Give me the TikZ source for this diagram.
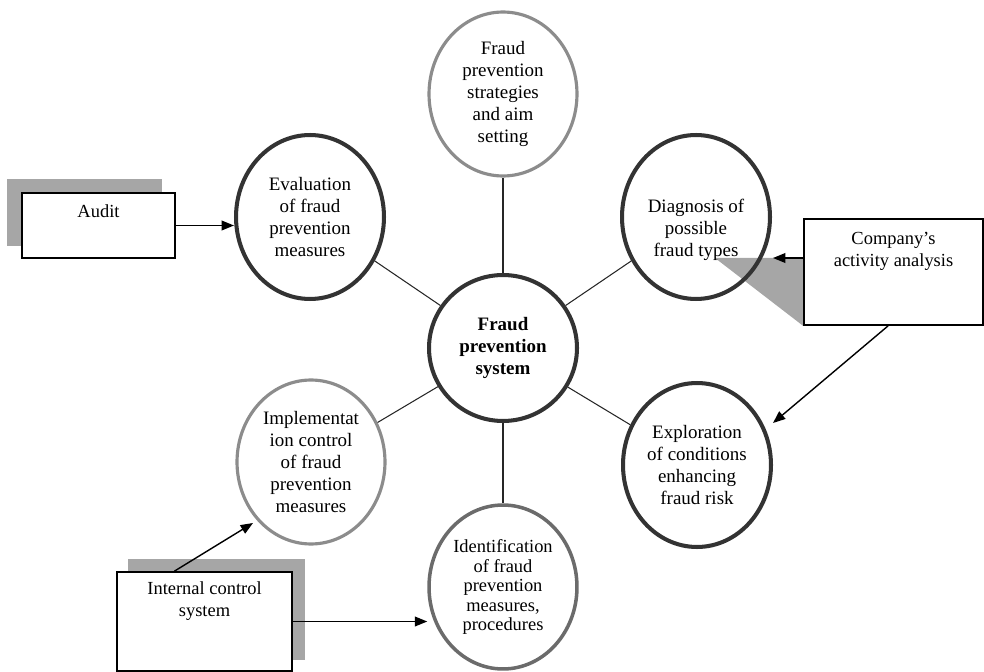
\documentclass[tikz,border=0pt]{standalone}
\usepackage{fontspec}
\setmainfont{Liberation Serif}
\usetikzlibrary{shapes.geometric,arrows.meta,calc,backgrounds}
\definecolor{inkdark}{HTML}{333333}
\definecolor{inkgrey}{HTML}{8C8C8C}
\definecolor{inkmid}{HTML}{6B6B6B}
\definecolor{shadowgrey}{HTML}{A6A6A6}
\tikzset
{
  bubbletext/.style={align=center,font=\fontsize{10.8}{12.6}\selectfont},
  bubble/.style={ellipse,draw=inkdark,line width=2.3pt,minimum width=2.96cm,minimum height=3.28cm,inner sep=0pt,bubbletext},
  bubblegrey/.style={bubble,draw=inkgrey,line width=1.8pt},
  bubblemid/.style={bubble,draw=inkmid,line width=2pt,font=\fontsize{10.5}{11.1}\selectfont},
  hub/.style={bubble,minimum height=2.92cm,font=\bfseries\fontsize{10.8}{12.6}\selectfont},
  box/.style={rectangle,draw=black,line width=1pt,fill=white,inner sep=0pt},
  boxtext/.style={anchor=north,inner sep=0pt,align=center,font=\fontsize{10.5}{12.6}\selectfont},
  link/.style={line width=0.6pt,draw=black!85},
  feed/.style={line width=0.8pt,-{Triangle[length=7pt,width=5.5pt]}},
  backdrop/.style={fill=shadowgrey}
}
\begin{document}
\begin{tikzpicture}[x=0.02cm,y=-0.02cm]
  \useasboundingbox (0,0) rectangle (984,672);
  % krogi
  \node[hub]        (sys)   at (503,348) {Fraud\\prevention\\system};
  \node[bubblegrey] (strat) at (503,94)  {Fraud\\prevention\\strategies\\and aim\\setting};
  \node[bubble]     (eval)  at (310,217) {Evaluation\\of fraud\\prevention\\measures};
  \node[bubble]     (diag)  at (696,217) {};
  \node[bubbletext] (diagtext) at ([yshift=-7.4pt]diag.center) {Diagnosis of\\possible\\fraud types};
  \node[bubblegrey] (impl)  at (311,462) {Implementat\\ion control\\of fraud\\prevention\\measures};
  \node[bubble]     (expl)  at (697,465) {Exploration\\of conditions\\enhancing\\fraud risk};
  \node[bubblemid]  (ident) at (503,587) {Identification\\of fraud\\prevention\\measures,\\procedures};
  % povezave
  \foreach \n in {strat,eval,diag,impl,expl,ident}
    \draw[link] (sys) -- (\n);
  % okvirji
  \node[box,minimum width=3.06cm,minimum height=1.3cm]  (audit)    at (98.5,225.5) {};
  \node[box,minimum width=3.58cm,minimum height=2.12cm] (company)  at (893.5,272)  {};
  \node[box,minimum width=3.5cm,minimum height=1.98cm]  (internal) at (204.5,621.5) {};
  \node[boxtext,below=6.8pt] (audittext)    at (audit.north)    {Audit};
  \node[boxtext,below=7.9pt] (companytext)  at (company.north)  {Company’s\\activity analysis};
  \node[boxtext,below=5.7pt] (internaltext) at (internal.north) {Internal control\\system};
  % tocke
  \coordinate (cdiag)  at (773,258);
  \coordinate (cexpl)  at (773,423);
  \coordinate (cimpl)  at (253,523);
  \coordinate (cshade) at (715,258);
  % sence
  \begin{scope}[on background layer]
    \fill[backdrop] ($(audit.south west)+(-14,-13)$) rectangle ($(audit.north east)+(-14,-13)$);
    \fill[backdrop] ($(internal.south west)+(12,-12)$) rectangle ($(internal.north east)+(12,-12)$);
    \fill[backdrop] (cshade) -- (company.west |- cdiag) -- (company.south west) -- cycle;
  \end{scope}
  % puscice
  \draw[feed] (audit) -- (audit -| eval.west);
  \draw[feed] (company.west |- cdiag) -- (cdiag);
  \draw[feed] ($(company.south west)!0.47!(company.south east)$) -- (cexpl);
  \draw[feed] ($(internal.north west)!0.33!(internal.north east)$) -- (cimpl);
  \draw[feed] (internal) -- (internal -| ident.west);
\end{tikzpicture}
\end{document}
